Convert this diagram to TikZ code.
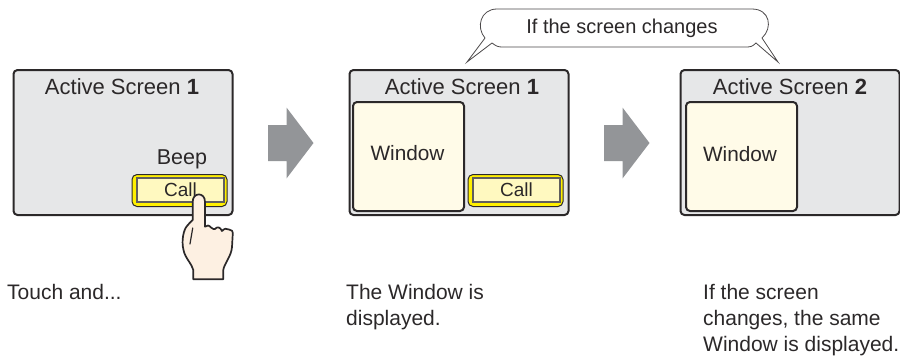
\documentclass[tikz,border=0pt]{standalone}
\usepackage{fontspec}
\setmainfont{Liberation Sans}
\definecolor{screengray}{HTML}{E6E7E8}
\definecolor{inkdark}{HTML}{2B2829}
\definecolor{windowcream}{HTML}{FFFBE8}
\definecolor{callfill}{HTML}{FFF9C0}
\definecolor{callglow}{HTML}{FFF000}
\definecolor{arrowgray}{HTML}{939598}
\definecolor{handskin}{HTML}{FDF0E2}
\tikzset{
  screenbox/.style={draw=inkdark, fill=screengray, line width=2pt, rounded corners=4pt, minimum width=219pt, minimum height=145pt, inner sep=0pt, outer sep=0pt},
  windowbox/.style={draw=inkdark, fill=windowcream, line width=2pt, rounded corners=4pt, minimum width=111pt, minimum height=109pt, inner sep=0pt, outer sep=0pt},
  windowtext/.style={text=inkdark, inner sep=0pt, font=\fontsize{20.8}{24}\selectfont},
  callglowbox/.style={draw=inkdark, fill=callglow, line width=1pt, rounded corners=5pt, minimum width=95pt, minimum height=32pt, inner sep=0pt, outer sep=0pt},
  callbox/.style={draw=inkdark!75, fill=callfill, line width=1.5pt, minimum width=87pt, minimum height=24pt, inner sep=0pt, outer sep=0pt, text=inkdark, font=\fontsize{19}{22}\selectfont},
  titletext/.style={text=inkdark, inner sep=0pt, font=\fontsize{22}{26}\selectfont},
  captiontext/.style={text=inkdark, inner sep=0pt, align=left, anchor=north west, font=\fontsize{21}{26}\selectfont},
  shiftarrow/.style={fill=arrowgray, draw=none}
}
\begin{document}
\begin{tikzpicture}[x=1pt, y=-1pt]
\useasboundingbox (0,0) rectangle (900,360);

% Speech bubble above the two right screens
\draw[fill=white, draw=inkdark!85, line width=0.8pt] (497,9) -- (752,9)
  .. controls (770,9) and (773,28) .. (762,38) -- (778,62) -- (756,43)
  .. controls (752,47) and (750,47) .. (745,47) -- (502,47)
  .. controls (498,47) and (496,46) .. (492,43) -- (467,62) -- (485,38)
  .. controls (476,28) and (480,9) .. (497,9) -- cycle;
\node[text=inkdark, inner sep=0pt, font=\fontsize{20}{24}\selectfont] (bubbletext) at (622,28.5) {If the screen changes};

% Screens
\node[screenbox] (screenA) at (123,142.5) {};
\node[screenbox] (screenB) at (459,142.5) {};
\node[screenbox] (screenC) at (790,142.5) {};

% Screen titles
\node[titletext] (titleA) at (122,87) {Active Screen \textbf{1}};
\node[titletext] (titleB) at (462,87) {Active Screen \textbf{1}};
\node[titletext] (titleC) at (790,87) {Active Screen \textbf{2}};

% Windows
\node[windowbox] (windowB) at (408.5,156.5) {};
\node[windowbox] (windowC) at (741.5,156.5) {};
\node[windowtext] (windowtextB) at (407.5,153.5) {Window};
\node[windowtext] (windowtextC) at (740,154) {Window};

% Call buttons
\node[callglowbox] (glowA) at (179.5,190.5) {};
\node[callbox] (callA) at (180.5,190) {Call};
\node[callglowbox] (glowB) at (515.5,190.5) {};
\node[callbox] (callB) at (516.5,190) {Call};
\node[titletext, font=\fontsize{21.5}{25}\selectfont] (beeplabel) at (182,159) {Beep};

% Grey arrows between the screens
\foreach \x in {268,604}
{
  \fill[shiftarrow] (\x,125) -- (\x+18.5,125) -- (\x+18.5,107.5) -- (\x+45.5,143) -- (\x+18.5,178.5) -- (\x+18.5,161) -- (\x,161) -- cycle;
}

% Hand on the first button
\draw[fill=handskin, draw=inkdark, line width=1.7pt, line join=round]
  (192.7,201.7) .. controls (192.7,192) and (205,192) .. (205,201.7) -- (205,226.7)
  .. controls (207,225) and (209,225) .. (211,227.5)
  .. controls (213,229.5) and (214,229) .. (215,229)
  .. controls (217,226.5) and (220,226.5) .. (222,231)
  .. controls (224,228.5) and (227,228) .. (229,229.5)
  .. controls (232,229.5) and (233,231) .. (232.7,235)
  -- (232,247) .. controls (231.5,256) and (224,264) .. (223.3,270) -- (223.3,279.3) -- (193.3,279.3) -- (193.3,270)
  .. controls (192,264) and (185,258) .. (183.5,250)
  .. controls (181,240) and (184,229) .. (187,226)
  .. controls (188,224) and (191,222) .. (192.7,220) -- cycle;
\draw[inkdark, line width=1.2pt, line cap=round] (192.7,228) -- (190,244);

% Captions
\node[captiontext] (captionA) at (7,284) {Touch and...};
\node[captiontext] (captionB) at (346,284) {The Window is\\displayed.};
\node[captiontext] (captionC) at (703,284) {If the screen\\changes, the same\\Window is displayed.};

\end{tikzpicture}
\end{document}
